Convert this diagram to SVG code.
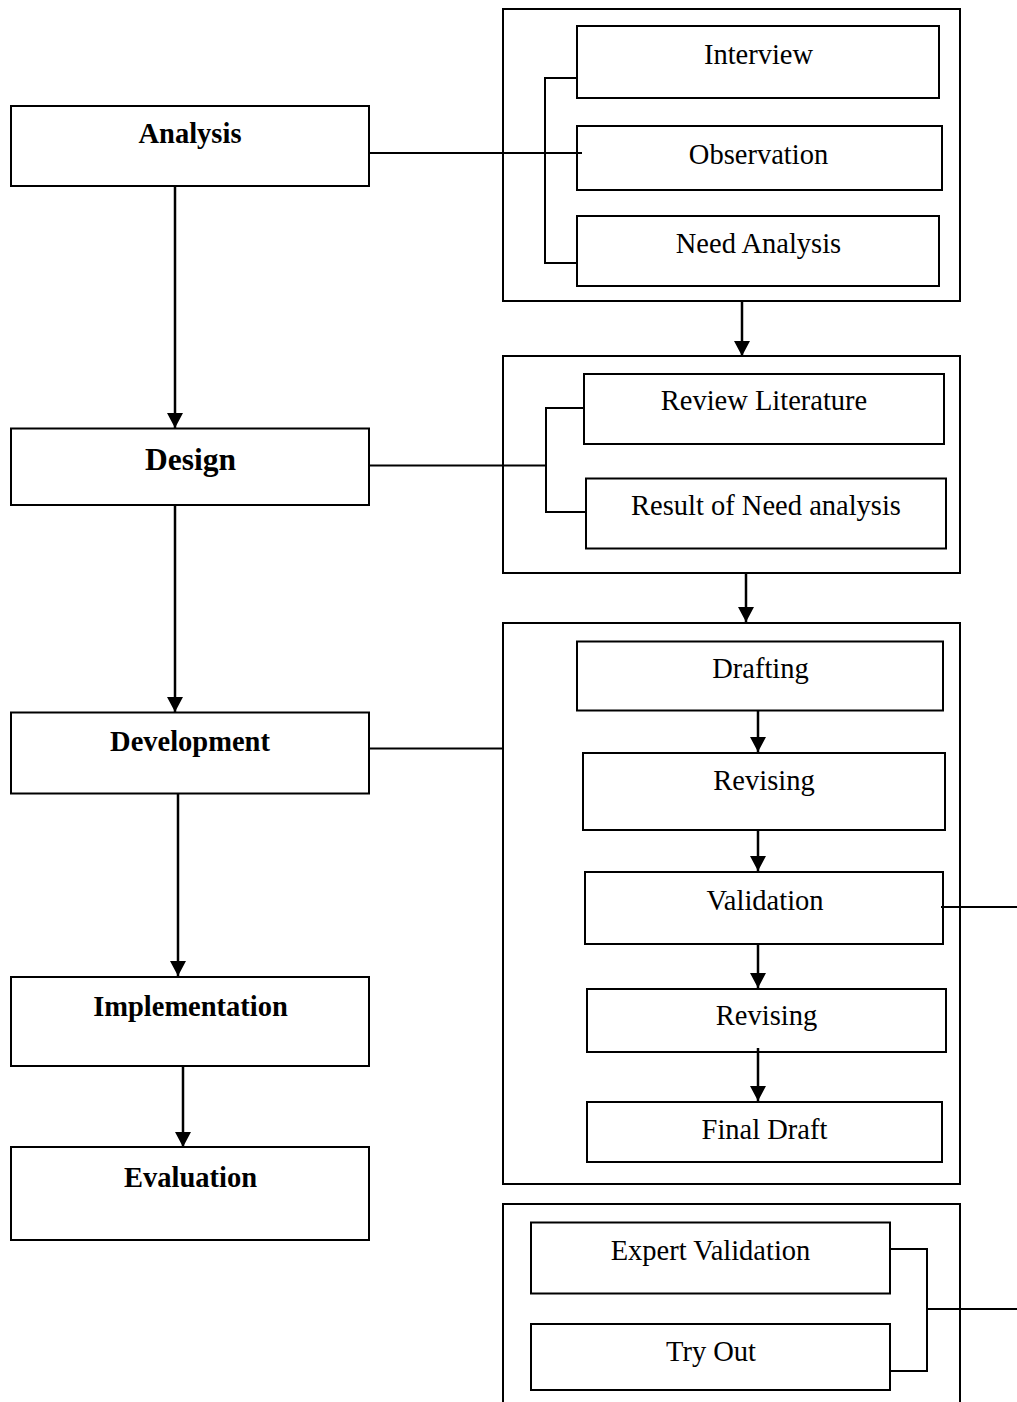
<svg xmlns="http://www.w3.org/2000/svg" width="1017" height="1402" viewBox="0 0 1017 1402">
<defs>
<marker id="ah" viewBox="0 0 15 16" refX="15" refY="8" markerWidth="15" markerHeight="16" orient="auto" markerUnits="userSpaceOnUse">
<path d="M0,0 L15,8 L0,16 Z" fill="#000"/>
</marker>
<style>
.box{fill:#fff;stroke:#000;stroke-width:2}
.frame{fill:none;stroke:#000;stroke-width:2}
.ln{fill:none;stroke:#000;stroke-width:2}
.arr{fill:none;stroke:#000;stroke-width:2.5;marker-end:url(#ah)}
.t{font-family:"Liberation Serif","Times New Roman",serif;font-size:28.5px;fill:#000;text-anchor:middle}
.b{font-weight:bold}
</style>
</defs>
<rect width="1017" height="1402" fill="#fff"/>

<g id="frame-analysis"><rect class="frame" x="503" y="9" width="457" height="292"/></g>
<g id="frame-design"><rect class="frame" x="503" y="356" width="457" height="217"/></g>
<g id="frame-development"><rect class="frame" x="503" y="623" width="457" height="561"/></g>
<g id="frame-validation"><path class="frame" d="M503,1404 L503,1204 L960,1204 L960,1404"/></g>

<g id="analysis"><rect class="box" x="11" y="106" width="358" height="80"/><text class="t b" x="190" y="143">Analysis</text></g>
<g id="design"><rect class="box" x="11" y="428.5" width="358" height="76.5"/><text class="t b" x="190.5" y="469.5" style="font-size:31.5px">Design</text></g>
<g id="development"><rect class="box" x="11" y="712.5" width="358" height="81"/><text class="t b" x="190" y="751">Development</text></g>
<g id="implementation"><rect class="box" x="11" y="977" width="358" height="89"/><text class="t b" x="190.5" y="1015.5">Implementation</text></g>
<g id="evaluation"><rect class="box" x="11" y="1147" width="358" height="93"/><text class="t b" x="190.5" y="1186.5">Evaluation</text></g>

<g id="interview"><rect class="box" x="577" y="26" width="362" height="72"/><text class="t" x="758.5" y="63.5">Interview</text></g>
<g id="observation"><rect class="box" x="577" y="126" width="365" height="64"/><text class="t" x="758.5" y="163.5">Observation</text></g>
<g id="need-analysis"><rect class="box" x="577" y="216" width="362" height="70"/><text class="t" x="758.5" y="252.5">Need Analysis</text></g>

<g id="review-literature"><rect class="box" x="584" y="374" width="360" height="70"/><text class="t" x="764" y="410">Review Literature</text></g>
<g id="result-need"><rect class="box" x="586" y="478.5" width="360" height="70"/><text class="t" x="766" y="515">Result of Need analysis</text></g>

<g id="drafting"><rect class="box" x="577" y="641.5" width="366" height="69"/><text class="t" x="760.5" y="678">Drafting</text></g>
<g id="revising-1"><rect class="box" x="583" y="753" width="362" height="77"/><text class="t" x="764" y="790">Revising</text></g>
<g id="validation"><rect class="box" x="585" y="872" width="358" height="72"/><text class="t" x="765" y="909.5">Validation</text></g>
<g id="revising-2"><rect class="box" x="587" y="989" width="359" height="63"/><text class="t" x="766.5" y="1025">Revising</text></g>
<g id="final-draft"><rect class="box" x="587" y="1102" width="355" height="60"/><text class="t" x="764.5" y="1138.5">Final Draft</text></g>

<g id="expert-validation"><rect class="box" x="531" y="1222.5" width="359" height="71"/><text class="t" x="710.5" y="1260">Expert Validation</text></g>
<g id="try-out"><rect class="box" x="531" y="1324" width="359" height="66"/><text class="t" x="711" y="1361">Try Out</text></g>

<g id="connectors">
<line class="arr" x1="175" y1="187" x2="175" y2="428"/>
<line class="arr" x1="175" y1="506" x2="175" y2="712"/>
<line class="arr" x1="178" y1="794" x2="178" y2="976"/>
<line class="arr" x1="183" y1="1066" x2="183" y2="1147"/>
<line class="ln" x1="369" y1="153" x2="582" y2="153"/>
<path class="ln" d="M577,78 L545,78 L545,263 L577,263"/>
<line class="arr" x1="742" y1="302" x2="742" y2="356"/>
<line class="ln" x1="370" y1="465.5" x2="546" y2="465.5"/>
<path class="ln" d="M584,408 L546,408 L546,512 L586,512"/>
<line class="arr" x1="746" y1="574" x2="746" y2="622"/>
<line class="ln" x1="370" y1="748.5" x2="503" y2="748.5"/>
<line class="arr" x1="758" y1="711" x2="758" y2="752"/>
<line class="arr" x1="758" y1="831" x2="758" y2="871"/>
<line class="arr" x1="758" y1="945" x2="758" y2="988"/>
<line class="arr" x1="758" y1="1048" x2="758" y2="1101"/>
<line class="ln" x1="941" y1="907" x2="1017" y2="907"/>
<path class="ln" d="M890,1249 L927,1249 L927,1371 L890,1371"/>
<line class="ln" x1="927" y1="1309" x2="1017" y2="1309"/>
</g>
</svg>
